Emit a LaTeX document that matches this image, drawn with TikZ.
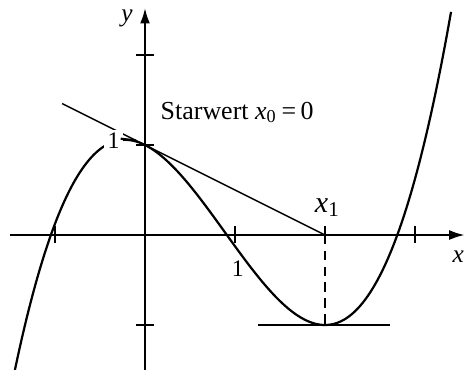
\documentclass[tikz,border=0pt]{standalone}
\usepackage{fontspec}
\setmainfont{Liberation Serif}
\usetikzlibrary{arrows.meta}
\begin{document}
\begin{tikzpicture}[x=1cm,y=1cm,
  axis/.style={line width=0.9pt,-{Latex[length=0.18cm,width=0.11cm]}},
  tickmark/.style={line width=0.7pt},
  curve/.style={line width=0.7pt},
  thinline/.style={line width=0.45pt},
  lbl/.style={inner sep=0.5pt,font=\fontsize{7.5}{8}\selectfont}]
\useasboundingbox (-1.611,-1.489) rectangle (3.544,2.611);
% coordinates
\coordinate (xs) at (-1.5,0);
\coordinate (xe) at (3.56,0);
\coordinate (ys) at (0,-1.6);
\coordinate (ye) at (0,2.53);
\coordinate (T0) at (-0.92,1.46);
\coordinate (X1) at (2,0);
\coordinate (M) at (2,-1);
\coordinate (Ha) at (1.26,-1);
\coordinate (Hb) at (2.72,-1);
% curve
\draw[curve] plot[domain=-1.45:3.4,samples=120,smooth] (\x,{0.375*\x*\x*\x-\x*\x-0.5*\x+1});
% axes
\draw[axis] (xs) -- (xe);
\draw[axis] (ys) -- (ye);
% ticks
\foreach \t in {-1,1,2,3} \draw[tickmark] (\t,-0.09) -- (\t,0.1);
\foreach \t in {-1,1,2} \draw[tickmark] (-0.1,\t) -- (0.1,\t);
% tangents
\draw[thinline] (T0) -- (X1);
\draw[thinline] (Ha) -- (Hb);
\draw[thinline,dashed,dash pattern=on 3pt off 2pt] (X1) -- (M);
% labels
\node[lbl,fill=white,inner sep=1pt] (one) at (-0.35,1.05) {1};
\draw[tickmark] (-0.27,1.07) -- (-0.1,1.05);
\node[lbl] (onex) at (1.03,-0.37) {1};
\node[lbl,font=\fontsize{8}{9}\selectfont\itshape] (ylab) at (-0.2,2.41) {y};
\node[lbl,font=\fontsize{8}{9}\selectfont\itshape] (xlab) at (3.48,-0.24) {x};
\node[lbl,anchor=west,font=\fontsize{8.2}{9}\selectfont] (start) at (0.15,1.36) {Starwert \textit{x}\textsubscript{0}\,=\,0};
\node[lbl,font=\fontsize{9.5}{10}\selectfont] (x1lab) at (2.03,0.3) {\textit{x}\textsubscript{1}};
\end{tikzpicture}
\end{document}
